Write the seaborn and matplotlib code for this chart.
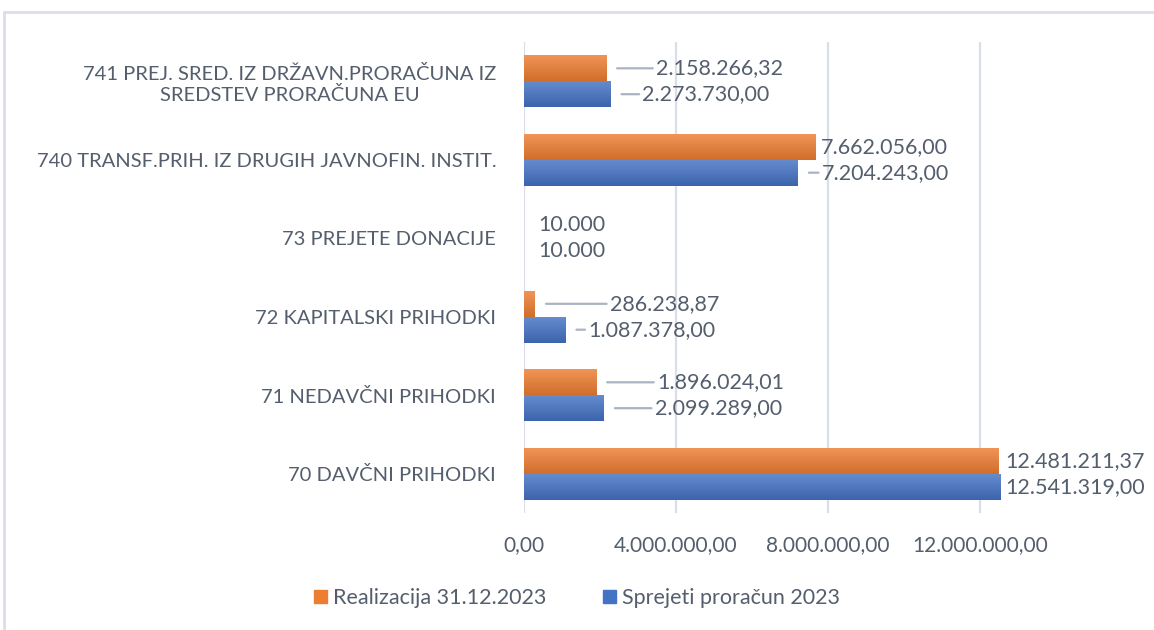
import numpy as np
import matplotlib
matplotlib.use("Agg")
import matplotlib.pyplot as plt
import seaborn as sns
import pandas as pd
from matplotlib.lines import Line2D

# chart data
categories = [
    "741 PREJ. SRED. IZ DRŽAVN.PRORAČUNA IZ\nSREDSTEV PRORAČUNA EU",
    "740 TRANSF.PRIH. IZ DRUGIH JAVNOFIN. INSTIT.",
    "73 PREJETE DONACIJE",
    "72 KAPITALSKI PRIHODKI",
    "71 NEDAVČNI PRIHODKI",
    "70 DAVČNI PRIHODKI",
]
series = ["Realizacija 31.12.2023", "Sprejeti proračun 2023"]
realizacija = [2158266.32, 7662056.00, 10000, 286238.87, 1896024.01, 12481211.37]
sprejeti = [2273730.00, 7204243.00, 10000, 1087378.00, 2099289.00, 12541319.00]
realizacija_labels = ["2.158.266,32", "7.662.056,00", "10.000", "286.238,87", "1.896.024,01", "12.481.211,37"]
sprejeti_labels = ["2.273.730,00", "7.204.243,00", "10.000", "1.087.378,00", "2.099.289,00", "12.541.319,00"]
xticks = [0, 4000000, 8000000, 12000000]
xtick_labels = ["0,00", "4.000.000,00", "8.000.000,00", "12.000.000,00"]

# label offsets in pixels (manually moved labels in the original)
realizacija_offsets = [50, 6, 14, 75, 61, 7]
sprejeti_offsets = [32, 24, 14, 23, 51, 5]

text_color = "#545e6d"
grid_color = "#d9dee8"
leader_color = "#a9b4c2"
colors = ["#ed7d31", "#4472c4"]

df = pd.DataFrame({
    "kategorija": categories * 2,
    "vrednost": realizacija + sprejeti,
    "serija": [series[0]] * len(categories) + [series[1]] * len(categories),
})

sns.set_style("white")
plt.rcParams["font.family"] = ["Lato", "DejaVu Sans"]

fig = plt.figure(figsize=(11.54, 6.30), dpi=100)
ax = fig.add_axes([524 / 1154, 1 - 513 / 630, (1132 - 524) / 1154, (513 - 42) / 630])

sns.barplot(data=df, y="kategorija", x="vrednost", hue="serija", hue_order=series,
            palette=colors, orient="h", width=0.66, ax=ax, legend=False,
            saturation=1, edgecolor="none")

# soft vertical gradient like the office style bars
for patch, base in zip(ax.patches, [colors[0]] * 6 + [colors[1]] * 6):
    x0, y0 = patch.get_x(), patch.get_y()
    w, h = patch.get_width(), patch.get_height()
    if w < 50000:
        patch.set_alpha(0.15)
        continue
    rgb = np.array(matplotlib.colors.to_rgb(base))
    light = rgb + (1 - rgb) * 0.18
    dark = rgb * 0.88
    grad = np.linspace(0, 1, 64)[:, None, None]
    img = light * (1 - grad) + dark * grad
    im = ax.imshow(img, extent=(x0, x0 + w, y0 + h, y0), aspect="auto",
                   zorder=patch.get_zorder() + 0.1, interpolation="bilinear")
    im.set_clip_path(patch)

ax.set_xlim(0, 16000000)
ax.set_ylim(len(categories) - 0.5, -0.5)
ax.set_xticks(xticks)
ax.set_xticklabels(xtick_labels)
ax.set_xlabel("")
ax.set_ylabel("")
ax.grid(axis="x", color=grid_color, linewidth=1.6)
ax.set_axisbelow(True)
for s in ax.spines.values():
    s.set_visible(False)
ax.tick_params(axis="x", length=0, pad=16, labelsize=15, labelcolor=text_color)
ax.tick_params(axis="y", length=0, pad=20, labelsize=14.5, labelcolor=text_color)
for lab in ax.get_yticklabels():
    lab.set_horizontalalignment("right")
    lab.set_multialignment("center")

# data labels with leader lines
for hi, (vals, labs, offs) in enumerate([(realizacija, realizacija_labels, realizacija_offsets),
                                         (sprejeti, sprejeti_labels, sprejeti_offsets)]):
    for ci, (v, t, off) in enumerate(zip(vals, labs, offs)):
        bar = ax.patches[hi * len(categories) + ci]
        yc = bar.get_y() + bar.get_height() / 2
        props = None
        if off > 15 and v > 20000:
            props = dict(arrowstyle="-", color=leader_color, lw=1.6, shrinkA=0, shrinkB=8)
        ax.annotate(t, xy=(v, yc), xytext=(off, 0), textcoords="offset pixels",
                    ha="left", va="center", fontsize=15.5, color=text_color,
                    arrowprops=props, annotation_clip=False)

handles = [plt.Rectangle((0, 0), 1, 1, color=c) for c in colors]
fig.legend(handles, series, loc="center", bbox_to_anchor=(0.5, 1 - 598 / 630), ncol=2,
           frameon=False, fontsize=15.5, labelcolor=text_color, handlelength=0.6,
           handleheight=0.6, handletextpad=0.3, columnspacing=2.6)

# outer chart frame
fig.add_artist(Line2D([4 / 1154, 1], [1 - 12 / 630, 1 - 12 / 630], color=grid_color, lw=2))
fig.add_artist(Line2D([4 / 1154, 4 / 1154], [1 - 12 / 630, 0], color=grid_color, lw=2))

fig.savefig("out.png", dpi=100)
